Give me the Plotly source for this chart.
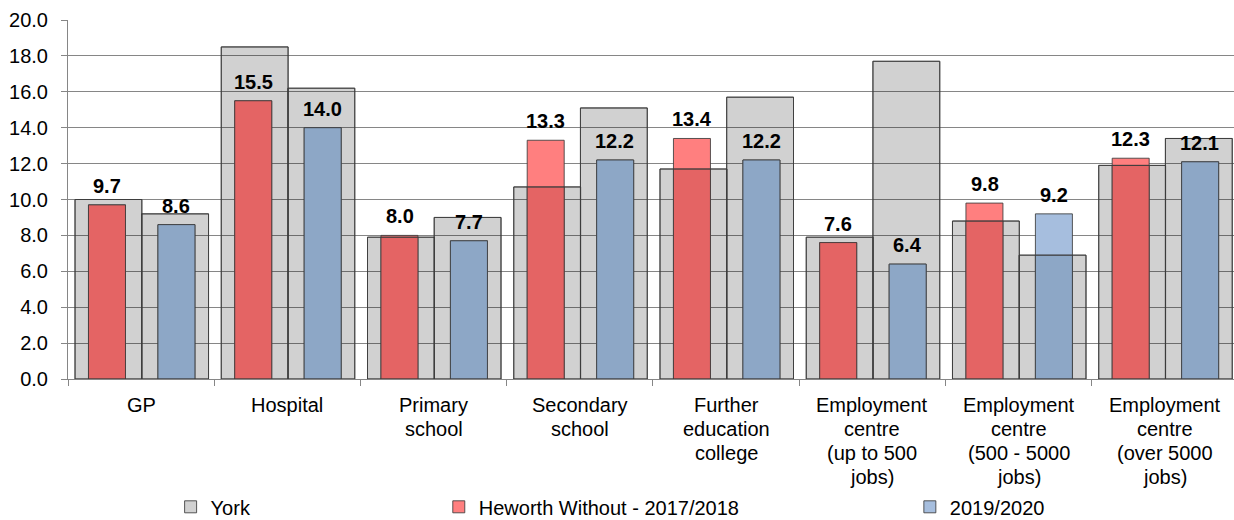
import numpy as np
import plotly.graph_objects as go

categories = ["GP", "Hospital", "Primary school", "Secondary school",
              "Further education college",
              "Employment centre (up to 500 jobs)",
              "Employment centre (500 - 5000 jobs)",
              "Employment centre (over 5000 jobs)"]
category_label_lines = [["GP"], ["Hospital"], ["Primary", "school"], ["Secondary", "school"],
                        ["Further", "education", "college"],
                        ["Employment", "centre", "(up to 500", "jobs)"],
                        ["Employment", "centre", "(500 - 5000", "jobs)"],
                        ["Employment", "centre", "(over 5000", "jobs)"]]
york_1718 = [10.0, 18.5, 7.9, 10.7, 11.7, 7.9, 8.8, 11.9]
york_1920 = [9.2, 16.2, 9.0, 15.1, 15.7, 17.7, 6.9, 13.4]
heworth_1718 = [9.7, 15.5, 8.0, 13.3, 13.4, 7.6, 9.8, 12.3]
heworth_1920 = [8.6, 14.0, 7.7, 12.2, 12.2, 6.4, 9.2, 12.1]

FONT = "Liberation Sans, Arial, sans-serif"
OUT = "rgba(60,60,60,0.85)"
GRID = "#868686"

Y_OFF_L, Y_OFF_R, Y_W = -0.452, 0.004, 0.457
B_W = 0.253
R_OFF, BL_OFF = -0.36, 0.115

fig = go.Figure()

# York fills (behind)
fig.add_trace(go.Bar(x=categories, y=york_1718, offset=Y_OFF_L, width=Y_W, name="York",
                     marker=dict(color="rgba(0,0,0,0.18)", line=dict(color=OUT, width=1)),
                     legend="legend", legendgroup="york", showlegend=True, hoverinfo="skip"))
fig.add_trace(go.Bar(x=categories, y=york_1920, offset=Y_OFF_R, width=Y_W, name="York",
                     marker=dict(color="rgba(0,0,0,0.18)", line=dict(color=OUT, width=1)),
                     legend="legend", legendgroup="york", showlegend=False, hoverinfo="skip"))

# Heworth 2017/2018
fig.add_trace(go.Bar(x=categories, y=heworth_1718, offset=R_OFF, width=B_W,
                     name="Heworth Without - 2017/2018",
                     marker=dict(color="#FF7F7F", line=dict(color=OUT, width=1)),
                     legend="legend2", showlegend=True))
fig.add_trace(go.Bar(x=categories, y=np.minimum(heworth_1718, york_1718), offset=R_OFF, width=B_W,
                     marker=dict(color="#E46464", line=dict(color=OUT, width=1)),
                     showlegend=False, hoverinfo="skip"))

# 2019/2020
fig.add_trace(go.Bar(x=categories, y=heworth_1920, offset=BL_OFF, width=B_W,
                     name="2019/2020",
                     marker=dict(color="#A6BEDE", line=dict(color=OUT, width=1)),
                     legend="legend3", showlegend=True))
fig.add_trace(go.Bar(x=categories, y=np.minimum(heworth_1920, york_1920), offset=BL_OFF, width=B_W,
                     marker=dict(color="#8DA7C6", line=dict(color=OUT, width=1)),
                     showlegend=False, hoverinfo="skip"))

# York outlines on top
for vals, off in [(york_1718, Y_OFF_L), (york_1920, Y_OFF_R)]:
    fig.add_trace(go.Bar(x=categories, y=vals, offset=off, width=Y_W,
                         marker=dict(color="rgba(0,0,0,0)", line=dict(color=OUT, width=1)),
                         showlegend=False, hoverinfo="skip"))

annotations = []
for cat, rv, bv in zip(categories, heworth_1718, heworth_1920):
    for val, xs in [(rv, -34), (bv, 35)]:
        annotations.append(dict(x=cat, y=val, xref="x", yref="y", text=f"{val:.1f}",
                                showarrow=False, xshift=xs, yshift=6, yanchor="bottom",
                                font=dict(family=FONT, size=20, color="black", weight="bold")))

# category labels, one line each for tighter line spacing
for cat, lines in zip(categories, category_label_lines):
    for k, line in enumerate(lines):
        annotations.append(dict(x=cat, y=0, xref="x", yref="paper", text=line,
                                showarrow=False, yanchor="middle", yshift=-(26 + 23.9 * k),
                                font=dict(family=FONT, size=20, color="black")))

leg_common = dict(orientation="h", yanchor="middle", y=-0.356, xanchor="left",
                  font=dict(family=FONT, size=20, color="black"), bgcolor="rgba(0,0,0,0)",
                  itemclick=False, itemdoubleclick=False)

fig.update_layout(
    width=1234, height=520,
    margin=dict(l=68, r=0, t=20, b=141, autoexpand=False),
    barmode="overlay",
    plot_bgcolor="white", paper_bgcolor="white",
    font=dict(family=FONT, size=20, color="black"),
    annotations=annotations,
    legend=dict(x=0.088, **leg_common),
    legend2=dict(x=0.318, **leg_common),
    legend3=dict(x=0.722, **leg_common),
    xaxis=dict(range=[-0.5, 7.473], showline=True, linecolor=GRID, ticks="outside",
               tickson="boundaries", ticklen=6, tickcolor=GRID, showgrid=False,
               showticklabels=False),
    yaxis=dict(range=[0, 20], dtick=2, tickformat=".1f", showgrid=True, gridcolor=GRID,
               gridwidth=1, showline=True, linecolor=GRID, ticks="outside", ticklen=6,
               tickcolor=GRID, zeroline=False, ticklabelstandoff=9,
               tickfont=dict(family=FONT, size=20, color="black")),
)

fig.write_html("out.html", config={"displayModeBar": False},
               post_script="document.body.style.margin='0';document.body.style.overflow='hidden';")
